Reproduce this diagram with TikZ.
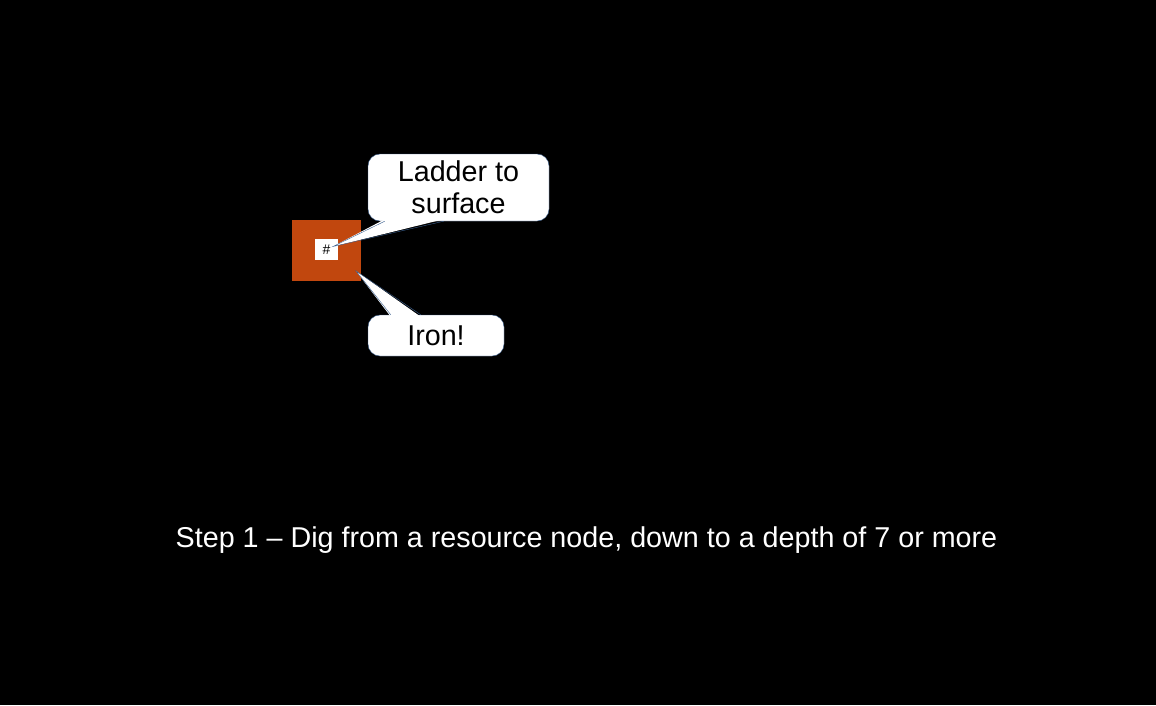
\documentclass[tikz,border=0pt]{standalone}
\usepackage{fontspec}
\setmainfont{Liberation Sans}
\usepackage{xcolor}
\usetikzlibrary{positioning, calc}

\definecolor{oreorange}{HTML}{C1470E}
\definecolor{bubbleline}{HTML}{3A5F8E}

\begin{document}
\begin{tikzpicture}[
    x=1pt, y=-1pt,
    big text/.style={font=\fontsize{28.7}{32}\selectfont},
    bubble/.style={big text, fill=white, draw=bubbleline, thin, rounded corners=12pt,
        inner sep=0pt, align=center, text=black},
    bubble tail/.style={draw=bubbleline, thin},
    ore block/.style={fill=oreorange, minimum width=69pt, minimum height=61pt, inner sep=0pt},
    ladder mark/.style={fill=white, minimum width=23pt, minimum height=21pt, inner sep=0pt,
        font=\fontsize{14}{14}\selectfont, text=black}
]

% --- 0. Background ---
\fill[black] (0,0) rectangle (1156,705);
\useasboundingbox (0,0) rectangle (1156,705);

% --- 1. Resource block ---
\node[ore block] (ore) at (326.5,250) {};
\node[ladder mark] (ladder) at (326.5,249.5) {\#};

% --- 2. Callouts ---
\node[bubble, minimum width=181pt, minimum height=67pt] (ladderNote) at (458.5,187.5)
    {Ladder to\\surface};
\node[bubble, minimum width=136pt, minimum height=41pt] (ironNote) at (436,335.5)
    {Iron!};

\coordinate (ladderTip) at (333,246.5);
\coordinate (ironTip) at (356,271);

% tail for the ladder note
\fill[white] ($(ladderNote.south west)+(17,-2)$) -- (ladderTip) -- ($(ladderNote.south west)+(76,-2)$) -- cycle;
\draw[bubble tail] ($(ladderNote.south west)+(17,0)$) -- (ladderTip) -- ($(ladderNote.south west)+(76,0)$);

% tail for the iron note
\fill[white] ($(ironNote.north west)+(23,2)$) -- (ironTip) -- ($(ironNote.north west)+(53,2)$) -- cycle;
\draw[bubble tail] ($(ironNote.north west)+(23,0)$) -- (ironTip) -- ($(ironNote.north west)+(53,0)$);

% --- 3. Caption ---
\node[big text, text=white] (caption) at (586.5,540)
    {Step 1 – Dig from a resource node, down to a depth of 7 or more};

\end{tikzpicture}
\end{document}
